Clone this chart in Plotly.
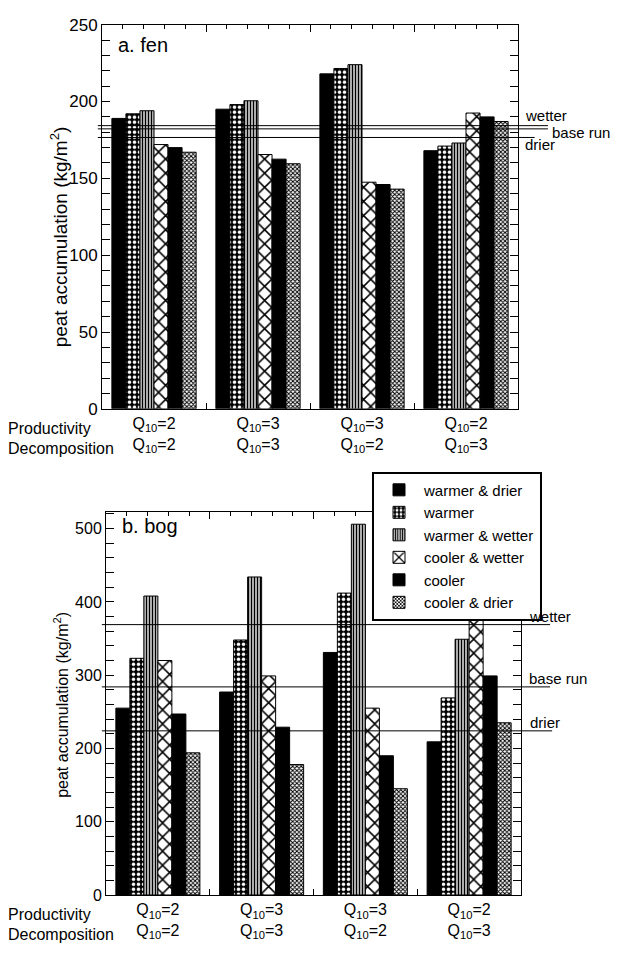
import plotly.graph_objects as go

W, H = 622, 953

groups = ["g1", "g2", "g3", "g4"]
prod_q10 = ["2", "3", "3", "2"]
decomp_q10 = ["2", "3", "2", "3"]
scenarios = ["warmer & drier", "warmer", "warmer & wetter",
             "cooler & wetter", "cooler", "cooler & drier"]

# fen values (kg/m2)
fen_warmer_drier = [189, 195, 218, 168]
fen_warmer = [192, 198, 221.5, 171]
fen_warmer_wetter = [194, 200.5, 224, 173]
fen_cooler_wetter = [172, 165.5, 147.5, 192.5]
fen_cooler = [170, 162.5, 146, 190]
fen_cooler_drier = [167, 159.5, 143, 187]

# bog values (kg/m2)
bog_warmer_drier = [255, 277, 331, 209]
bog_warmer = [323, 348, 412, 269]
bog_warmer_wetter = [408, 434, 506, 349]
bog_cooler_wetter = [320, 299, 255, 376]
bog_cooler = [247, 229, 190, 299]
bog_cooler_drier = [194, 178, 145, 235]

ref_names = ["wetter", "base run", "drier"]
fen_ref = [184.3, 182.2, 176.6]
bog_ref = [369, 284, 224]

fen_series = [fen_warmer_drier, fen_warmer, fen_warmer_wetter,
              fen_cooler_wetter, fen_cooler, fen_cooler_drier]
bog_series = [bog_warmer_drier, bog_warmer, bog_warmer_wetter,
              bog_cooler_wetter, bog_cooler, bog_cooler_drier]

patterns = [
    dict(shape=""),
    dict(shape=".", fillmode="replace", bgcolor="black", fgcolor="white", size=5, solidity=0.4),
    dict(shape="|", fillmode="replace", bgcolor="white", fgcolor="black", size=3, solidity=0.55),
    dict(shape="x", fillmode="replace", bgcolor="white", fgcolor="black", size=10, solidity=0.28),
    dict(shape=""),
    dict(shape="x", fillmode="replace", bgcolor="white", fgcolor="black", size=3, solidity=0.55),
]
colors = ["black", "black", "white", "white", "black", "white"]

FONT = "Liberation Sans, Arial, Helvetica, sans-serif"
ticktext = [f"Q<sub>10</sub>={p}<br>Q<sub>10</sub>={d}" for p, d in zip(prod_q10, decomp_q10)]

fig = go.Figure()
for i, name in enumerate(scenarios):
    fig.add_trace(go.Bar(x=groups, y=fen_series[i], name=name, legendgroup=name,
                         marker=dict(color=colors[i], line=dict(color="black", width=1),
                                     pattern=patterns[i]),
                         xaxis="x", yaxis="y", showlegend=True))
for i, name in enumerate(scenarios):
    fig.add_trace(go.Bar(x=groups, y=bog_series[i], name=name, legendgroup=name,
                         marker=dict(color=colors[i], line=dict(color="black", width=1),
                                     pattern=patterns[i]),
                         xaxis="x2", yaxis="y2", showlegend=False))
# empty traces so the top tick axes are drawn
fig.add_trace(go.Scatter(x=[], y=[], xaxis="x3", yaxis="y", showlegend=False, hoverinfo="skip"))
fig.add_trace(go.Scatter(x=[], y=[], xaxis="x4", yaxis="y2", showlegend=False, hoverinfo="skip"))


def px_x(p):
    return p / W


def px_y(p):
    return 1 - p / H


xa_common = dict(type="category", categoryorder="array", categoryarray=groups,
                 range=[-0.5, 3.5], showline=True, linecolor="black", linewidth=1,
                 mirror=True, ticks="inside", tickson="boundaries", ticklen=6,
                 tickcolor="black", tickvals=groups, ticktext=ticktext,
                 tickfont=dict(size=16, color="black"), showgrid=False)
top_common = dict(side="top", type="linear", range=[-0.5, 3.5], tickmode="linear",
                  tick0=-0.5, dtick=1, ticks="inside", ticklen=7, tickcolor="black",
                  minor=dict(tick0=-0.5, dtick=0.2, ticks="inside", ticklen=4, tickcolor="black"),
                  showticklabels=False, showline=False, showgrid=False, zeroline=False)

fig.update_layout(
    width=W, height=H,
    margin=dict(l=0, r=0, t=0, b=0),
    paper_bgcolor="white", plot_bgcolor="white",
    font=dict(family=FONT, color="black", size=16),
    barmode="group", bargap=0.19, bargroupgap=0,
    xaxis=dict(domain=[px_x(102), px_x(518)], anchor="y", **xa_common),
    yaxis=dict(domain=[px_y(408), px_y(16)], anchor="x", range=[0, 250],
               tickmode="linear", tick0=0, dtick=50, ticks="inside", ticklen=8,
               tickcolor="black", minor=dict(dtick=10, ticks="inside", ticklen=4, tickcolor="black"),
               showline=True, linecolor="black", mirror="allticks", showgrid=False,
               zeroline=False, tickfont=dict(size=17)),
    xaxis3=dict(overlaying="x", anchor="y", **top_common),
    xaxis2=dict(domain=[px_x(106), px_x(521)], anchor="y2", **xa_common),
    yaxis2=dict(domain=[px_y(904), px_y(513)], anchor="x2", range=[0, 523],
                tickmode="linear", tick0=0, dtick=100, ticks="inside", ticklen=8,
                tickcolor="black", minor=dict(dtick=20, ticks="inside", ticklen=4, tickcolor="black"),
                showline=True, linecolor="black", mirror="allticks", showgrid=False,
                zeroline=False, tickfont=dict(size=16)),
    xaxis4=dict(overlaying="x2", anchor="y2", **top_common),
    legend=dict(x=px_x(372), y=px_y(472), xanchor="left", yanchor="top",
                bgcolor="white", bordercolor="black", borderwidth=2,
                font=dict(size=15), itemwidth=40, tracegroupgap=0),
)

# reference lines
fen_x1 = [1.072, 1.072, 1.04]
for v, x1 in zip(fen_ref, fen_x1):
    fig.add_shape(type="line", xref="x domain", yref="y", x0=-0.01, x1=x1, y0=v, y1=v,
                  line=dict(color="black", width=1))
bog_x1 = [1.07, 1.07, 1.075]
for v, x1 in zip(bog_ref, bog_x1):
    fig.add_shape(type="line", xref="x2 domain", yref="y2", x0=-0.01, x1=x1, y0=v, y1=v,
                  line=dict(color="black", width=1))

fen_lab_x = [523, 550, 523]
fen_lab_y = [190.7, 180.0, 172.0]
for t, lx, ly in zip(ref_names, fen_lab_x, fen_lab_y):
    fig.add_annotation(text=t, x=px_x(lx), xref="paper", y=ly, yref="y",
                       xanchor="left", yanchor="middle", showarrow=False, font=dict(size=15))
bog_lab_x = [527, 527, 528]
bog_lab_y = [380, 295, 235]
for t, lx, ly in zip(ref_names, bog_lab_x, bog_lab_y):
    fig.add_annotation(text=t, x=px_x(lx), xref="paper", y=ly, yref="y2",
                       xanchor="left", yanchor="middle", showarrow=False, font=dict(size=15))

# panel labels
fig.add_annotation(text="a. fen", x=px_x(116), y=px_y(37), xref="paper", yref="paper",
                   xanchor="left", yanchor="middle", showarrow=False, font=dict(size=20))
fig.add_annotation(text="b. bog", x=px_x(120), y=px_y(528), xref="paper", yref="paper",
                   xanchor="left", yanchor="middle", showarrow=False, font=dict(size=20))

# y titles
fig.add_annotation(text="peat accumulation (kg/m<sup>2</sup>)", x=px_x(59), y=px_y(233),
                   xref="paper", yref="paper", textangle=-90, showarrow=False,
                   xanchor="center", yanchor="middle", font=dict(size=19))
fig.add_annotation(text="peat accumulation (kg/m<sup>2</sup>)", x=px_x(61), y=px_y(710),
                   xref="paper", yref="paper", textangle=-90, showarrow=False,
                   xanchor="center", yanchor="middle", font=dict(size=16))

# row labels
for base in (408, 904):
    fig.add_annotation(text="Productivity", x=px_x(6), y=px_y(base + 20), xref="paper",
                       yref="paper", xanchor="left", yanchor="middle", showarrow=False,
                       font=dict(size=16))
    fig.add_annotation(text="Decomposition", x=px_x(6), y=px_y(base + 40), xref="paper",
                       yref="paper", xanchor="left", yanchor="middle", showarrow=False,
                       font=dict(size=16))

fig.write_html("out.html", config={"displayModeBar": False},
               post_script="document.body.style.margin='0';document.body.style.overflow='hidden';")
